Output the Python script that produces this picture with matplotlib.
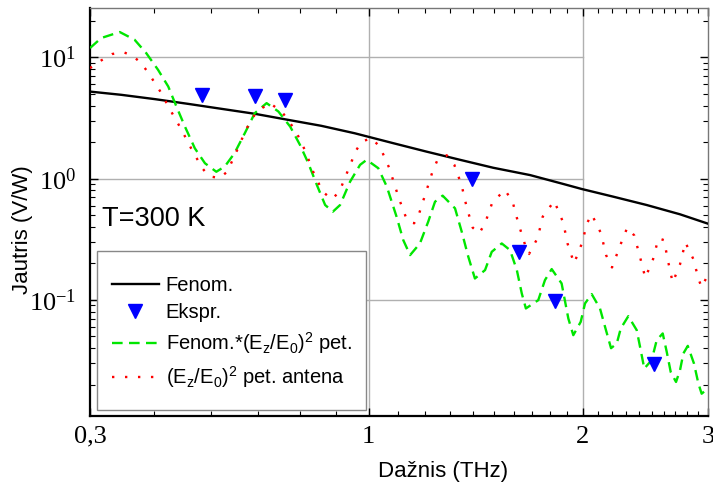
import matplotlib.pyplot as plt
import numpy as np
from matplotlib.patches import Rectangle
from matplotlib.ticker import FixedLocator, NullFormatter

# Fenom. (black line)
fenom_x = [0.406, 0.449, 0.501, 0.558, 0.621, 0.692, 0.770, 0.858, 0.956, 1.084,
           1.207, 1.345, 1.497, 1.687, 1.878, 1.993, 2.208, 2.460, 2.740, 3.0]
fenom_y = [5.23, 4.92, 4.53, 4.14, 3.77, 3.43, 3.06, 2.73, 2.37, 1.96,
           1.67, 1.43, 1.23, 1.07, 0.904, 0.822, 0.710, 0.606, 0.508, 0.425]

# Ekspr. (blue triangles)
ekspr_x = [0.583, 0.693, 0.763, 1.397, 1.627, 1.828, 2.52]
ekspr_y = [4.92, 4.85, 4.47, 0.99, 0.246, 0.098, 0.0296]

# Fenom.*(Ez/E0)^2 pet. (green dashed)
green_x = [0.406, 0.421, 0.447, 0.469, 0.487, 0.506, 0.523, 0.537, 0.552, 0.570,
           0.589, 0.611, 0.628, 0.648, 0.670, 0.692, 0.719, 0.747, 0.776, 0.801,
           0.823, 0.846, 0.869, 0.891, 0.912, 0.942, 0.973, 0.994, 1.032, 1.061,
           1.095, 1.119, 1.144, 1.181, 1.213, 1.240, 1.271, 1.323, 1.352, 1.381,
           1.411, 1.458, 1.490, 1.539, 1.581, 1.616, 1.642, 1.664, 1.732, 1.770,
           1.809, 1.868, 1.909, 1.940, 1.987, 2.015, 2.059, 2.115, 2.150, 2.192,
           2.233, 2.262, 2.318, 2.382, 2.413, 2.441, 2.500, 2.541, 2.591, 2.625,
           2.659, 2.705, 2.740, 2.770, 2.810, 2.867, 2.908, 2.939, 3.0]
green_y = [11.96, 14.47, 16.22, 14.01, 10.87, 7.91, 5.76, 3.94, 2.69, 1.78,
           1.34, 1.14, 1.26, 1.62, 2.37, 3.47, 4.20, 3.58, 2.69, 1.90,
           1.34, 0.887, 0.606, 0.534, 0.606, 0.944, 1.30, 1.43, 1.22, 0.859,
           0.485, 0.311, 0.234, 0.292, 0.441, 0.645, 0.724, 0.569, 0.365, 0.227,
           0.150, 0.176, 0.249, 0.292, 0.257, 0.176, 0.113, 0.0849, 0.0994, 0.1455,
           0.1794, 0.1366, 0.0702, 0.0511, 0.0658, 0.0934, 0.1115, 0.0849, 0.0598, 0.0399,
           0.0436, 0.058, 0.0733, 0.0562, 0.0384, 0.0271, 0.0318, 0.0464, 0.0528, 0.0372,
           0.0254, 0.0210, 0.0262, 0.0361, 0.0417, 0.0298, 0.0204, 0.0168, 0.0186]

# (Ez/E0)^2 pet. antena (red dotted)
red_x = [0.406, 0.421, 0.436, 0.452, 0.466, 0.479, 0.490, 0.509, 0.527, 0.546,
         0.564, 0.584, 0.596, 0.617, 0.633, 0.653, 0.673, 0.696, 0.727, 0.757,
         0.790, 0.815, 0.836, 0.862, 0.888, 0.910, 0.934, 0.960, 0.978, 1.010,
         1.038, 1.069, 1.104, 1.132, 1.159, 1.179, 1.205, 1.231, 1.249, 1.288,
         1.320, 1.352, 1.374, 1.401, 1.431, 1.458, 1.493, 1.555, 1.594, 1.623,
         1.660, 1.681, 1.729, 1.757, 1.824, 1.878, 1.905, 1.945, 1.993, 2.030,
         2.059, 2.122, 2.157, 2.199, 2.256, 2.310, 2.363, 2.407, 2.449, 2.511,
         2.555, 2.602, 2.636, 2.676, 2.740, 2.788, 2.861, 2.911, 2.939, 2.981]
red_y = [8.17, 9.45, 10.67, 11.08, 10.33, 8.99, 7.52, 5.31, 3.65, 2.53,
         1.75, 1.22, 1.05, 1.01, 1.14, 1.70, 2.56, 3.58, 4.20, 3.51,
         2.48, 1.69, 1.14, 0.781, 0.676, 0.781, 1.14, 1.70, 2.02, 2.16,
         1.82, 1.23, 0.680, 0.458, 0.428, 0.524, 0.781, 1.16, 1.41, 1.56,
         1.30, 0.875, 0.580, 0.394, 0.354, 0.428, 0.638, 0.807, 0.645, 0.433,
         0.283, 0.239, 0.325, 0.485, 0.654, 0.433, 0.289, 0.200, 0.289, 0.433,
         0.508, 0.354, 0.234, 0.185, 0.278, 0.394, 0.340, 0.227, 0.152, 0.216,
         0.322, 0.311, 0.209, 0.139, 0.196, 0.298, 0.217, 0.147, 0.127, 0.150]

x_ticks = [0.406, 1, 2, 3]
x_ticklabels = ['0,3', '1', '2', '3']
x_minor = [0.5, 0.6, 0.7, 0.8, 0.9, 1.1, 1.2, 1.3, 1.4, 1.5, 1.6, 1.7, 1.8, 1.9,
           2.1, 2.2, 2.3, 2.4, 2.5, 2.6, 2.7, 2.8, 2.9]
y_ticks = [0.1, 1, 10]
y_ticklabels = [r'$\mathregular{10^{-1}}$', r'$\mathregular{10^{0}}$', r'$\mathregular{10^{1}}$']
xlo, xhi = 0.406, 3.0
ylo, yhi = 0.011, 25.6

sans = 'Liberation Sans'
serif = 'Liberation Serif'

fig = plt.figure(figsize=(7.13, 4.86), dpi=100)
ax = fig.add_axes([90/713, 1 - 416/486, 618/713, 408/486])
ax.set_xscale('log')
ax.set_yscale('log')
ax.set_xlim(xlo, xhi)
ax.set_ylim(ylo, yhi)

# partial grid, like the original
frac2 = (np.log10(2) - np.log10(xlo)) / (np.log10(xhi) - np.log10(xlo))
for yv in y_ticks:
    ax.axhline(yv, xmin=0, xmax=frac2, color='#b0b0b0', lw=1.0, zorder=1)
for xv in [1, 2]:
    ax.axvline(xv, color='#b0b0b0', lw=1.0, zorder=1)

ax.plot(fenom_x, fenom_y, color='black', lw=1.7, label='Fenom.', zorder=3)
ax.plot(ekspr_x, ekspr_y, linestyle='none', marker='v', color='#0000ff', ms=9.5,
        label='Ekspr.', zorder=4)
ax.plot(green_x, green_y, color='#00e600', lw=1.7, linestyle=(0, (4.5, 2.7)),
        label=r'Fenom.*$\mathregular{(E_z/E_0)^2}$ pet.', zorder=3)
ax.plot(red_x, red_y, color='#ff0000', lw=1.7, linestyle=(0, (1, 4.5)),
        label=r'$\mathregular{(E_z/E_0)^2}$ pet. antena', zorder=3)

ax.xaxis.set_major_locator(FixedLocator(x_ticks))
ax.xaxis.set_minor_locator(FixedLocator(x_minor))
ax.xaxis.set_minor_formatter(NullFormatter())
ax.set_xticklabels(x_ticklabels, fontfamily=serif, fontsize=19)
ax.set_yticks(y_ticks)
ax.set_yticklabels(y_ticklabels, fontfamily=serif, fontsize=19)
ax.yaxis.set_minor_formatter(NullFormatter())

ax.tick_params(which='both', direction='in', top=True, right=True)
ax.tick_params(which='major', length=6, width=1)
ax.tick_params(which='minor', length=3.5, width=0.8)
ax.tick_params(axis='x', which='major', pad=7)
ax.tick_params(axis='y', which='major', pad=10)

for s in ['left', 'bottom']:
    ax.spines[s].set_linewidth(1.6)
    ax.spines[s].set_color('black')
for s in ['top', 'right']:
    ax.spines[s].set_linewidth(1.0)
    ax.spines[s].set_color('#777777')

ax.set_xlabel('Dažnis (THz)', fontfamily=sans, fontsize=16)
ax.set_ylabel('Jautris (V/W)', fontfamily=sans, fontsize=16)
ax.xaxis.set_label_coords(0.571, -0.11)
ax.yaxis.set_label_coords(-0.092, 0.456)

ax.text(0.019, 0.483, 'T=300 K', transform=ax.transAxes, ha='left', va='center',
        fontfamily=sans, fontsize=19.5)

# legend box drawn separately (the original has more room above/below)
ax.add_patch(Rectangle((0.0113, 0.0147), 0.4353, 0.3893, transform=ax.transAxes,
                       facecolor='white', edgecolor='#888888', lw=1.0, zorder=5))
leg = ax.legend(loc='upper left', bbox_to_anchor=(0.036, 0.343),
                borderaxespad=0, borderpad=0, prop={'family': sans, 'size': 14.5},
                frameon=False, handlelength=2.3, handletextpad=0.35,
                labelspacing=0.4)
leg.set_zorder(6)

fig.savefig('out.png', dpi=100)
